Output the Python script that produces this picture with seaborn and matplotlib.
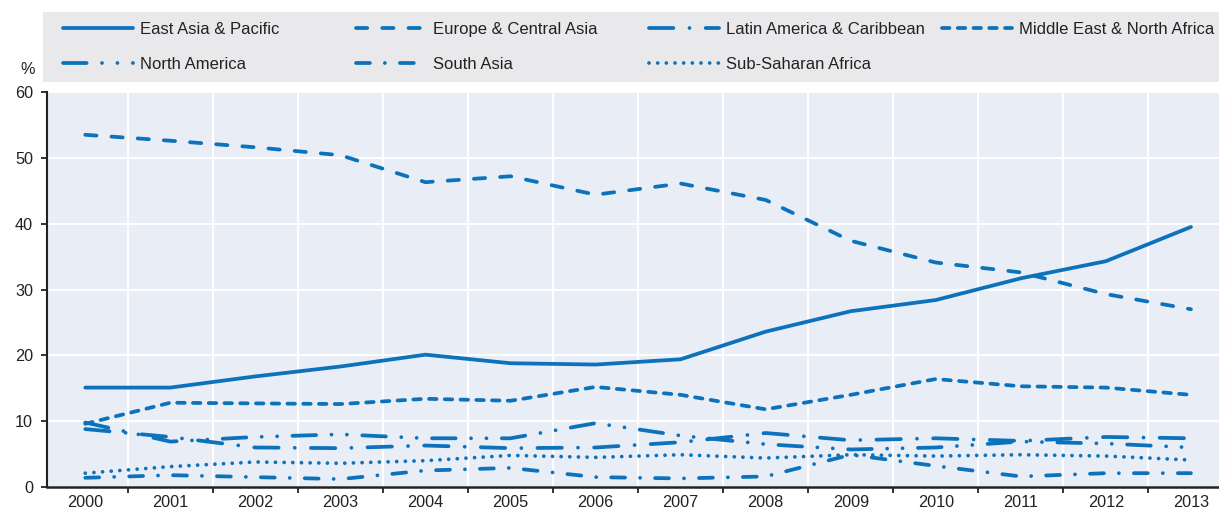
import pandas as pd
import matplotlib.pyplot as plt
import seaborn as sns
from matplotlib.patches import Rectangle

# values, in %
years = list(range(2000, 2014))
regions = ["East Asia & Pacific", "Europe & Central Asia", "Latin America & Caribbean",
           "Middle East & North Africa", "North America", "South Asia", "Sub-Saharan Africa"]

east_asia = [15.1, 15.1, 16.8, 18.3, 20.1, 18.8, 18.6, 19.4, 23.6, 26.7, 28.4, 31.7, 34.3, 39.5]
europe = [53.5, 52.6, 51.6, 50.4, 46.3, 47.2, 44.4, 46.1, 43.6, 37.4, 34.1, 32.6, 29.3, 27.0]
latin_america = [8.8, 7.6, 6.0, 5.9, 6.3, 5.9, 6.0, 6.8, 8.2, 7.1, 7.4, 7.0, 7.6, 7.4]
mena = [9.6, 12.8, 12.7, 12.6, 13.4, 13.1, 15.2, 14.0, 11.8, 14.0, 16.4, 15.3, 15.1, 14.0]
north_america = [9.8, 6.9, 7.6, 8.0, 7.4, 7.4, 9.7, 7.8, 6.5, 5.7, 6.0, 6.9, 6.6, 6.0]
south_asia = [1.4, 1.8, 1.5, 1.2, 2.5, 2.9, 1.5, 1.3, 1.6, 4.9, 3.2, 1.6, 2.1, 2.1]
sub_saharan = [2.1, 3.1, 3.8, 3.6, 4.0, 4.8, 4.5, 4.9, 4.4, 4.9, 4.7, 4.9, 4.7, 4.1]

df = pd.DataFrame({
    "Year": years,
    "East Asia & Pacific": east_asia,
    "Europe & Central Asia": europe,
    "Latin America & Caribbean": latin_america,
    "Middle East & North Africa": mena,
    "North America": north_america,
    "South Asia": south_asia,
    "Sub-Saharan Africa": sub_saharan,
}).melt(id_vars="Year", var_name="Region", value_name="Share")

sns.set_theme(style="whitegrid")
plt.rcParams['font.family'] = ['Liberation Sans', 'DejaVu Sans']

blue = "#0b72bb"
ink = "#222222"
lw = 2.7

# dash patterns in linewidth units (round caps add half a width at each end)
dash_styles = {
    "East Asia & Pacific": "",
    "Europe & Central Asia": (3.0, 4.0),
    "Latin America & Caribbean": (6.5, 4.3, 0.01, 4.3),
    "Middle East & North Africa": (2.0, 2.2),
    "North America": (6.3, 4.1, 0.01, 4.1, 0.01, 4.1),
    "South Asia": (3.7, 4.0, 0.01, 4.0),
    "Sub-Saharan Africa": (0.01, 2.3),
}

fig = plt.figure(figsize=(12.19, 5.11), dpi=100)
ax = fig.add_axes([47 / 1219, 24 / 511, 1 - 47 / 1219, 395 / 511])

sns.lineplot(data=df, x="Year", y="Share", hue="Region", style="Region",
             hue_order=regions, style_order=regions,
             palette={r: blue for r in regions}, dashes=dash_styles,
             linewidth=lw, ax=ax)

for line in ax.lines:
    line.set_dash_capstyle('round')

handles, labels = ax.get_legend_handles_labels()
ax.get_legend().remove()
lookup = dict(zip(labels, handles))
for h in handles:
    h.set_dash_capstyle('round')
    h.set_linewidth(lw)

# legend: grey band with four fixed-width columns
fig.add_artist(Rectangle((43 / 1219, 1 - 82 / 511), 1 - 43 / 1219, 70 / 511,
                         transform=fig.transFigure, facecolor="#e9e9eb",
                         edgecolor="none", zorder=0))
columns = [["East Asia & Pacific", "North America"],
           ["Europe & Central Asia", "South Asia"],
           ["Latin America & Caribbean", "Sub-Saharan Africa"],
           ["Middle East & North Africa"]]
col_x = [63, 356, 649, 942]
for names, x in zip(columns, col_x):
    fig.legend([lookup[n] for n in names], names, loc='upper left',
               bbox_to_anchor=(x / 1219, 1 - 22 / 511), frameon=False,
               fontsize=12, handlelength=4.2, handletextpad=0.4,
               borderpad=0, borderaxespad=0, labelspacing=1.2,
               labelcolor=ink)

ax.set_facecolor("#e8edf6")
ax.set_xlim(1999.55, 2013.33)
ax.set_ylim(0, 60)
ax.set_yticks(range(0, 61, 10))
ax.set_xticks(years)
ax.set_xticklabels([str(y) for y in years])
ax.set_xticks([y + 0.5 for y in years[:-1]], minor=True)
ax.set_xlabel("")
ax.set_ylabel("")

ax.grid(False)
ax.grid(which='minor', axis='x', color='white', linewidth=1.4)
ax.grid(which='major', axis='y', color='white', linewidth=1.4)
ax.set_axisbelow(True)

ax.tick_params(axis='x', which='major', length=0, pad=6, labelsize=11.7, labelcolor=ink)
ax.tick_params(axis='x', which='minor', bottom=True, length=4.5, width=1.3,
               color=ink, direction='out')
ax.tick_params(axis='y', which='major', left=True, length=4, width=1.3, color=ink,
               pad=6, labelsize=11.7, labelcolor=ink)

for side in ['top', 'right']:
    ax.spines[side].set_visible(False)
ax.spines['left'].set_color(ink)
ax.spines['left'].set_linewidth(1.5)
ax.spines['bottom'].set_color(ink)
ax.spines['bottom'].set_linewidth(1.8)

fig.text(28 / 1219, 1 - 70 / 511, "%", ha='center', va='center', fontsize=11.7, color=ink)

fig.savefig("out.png", dpi=100)
